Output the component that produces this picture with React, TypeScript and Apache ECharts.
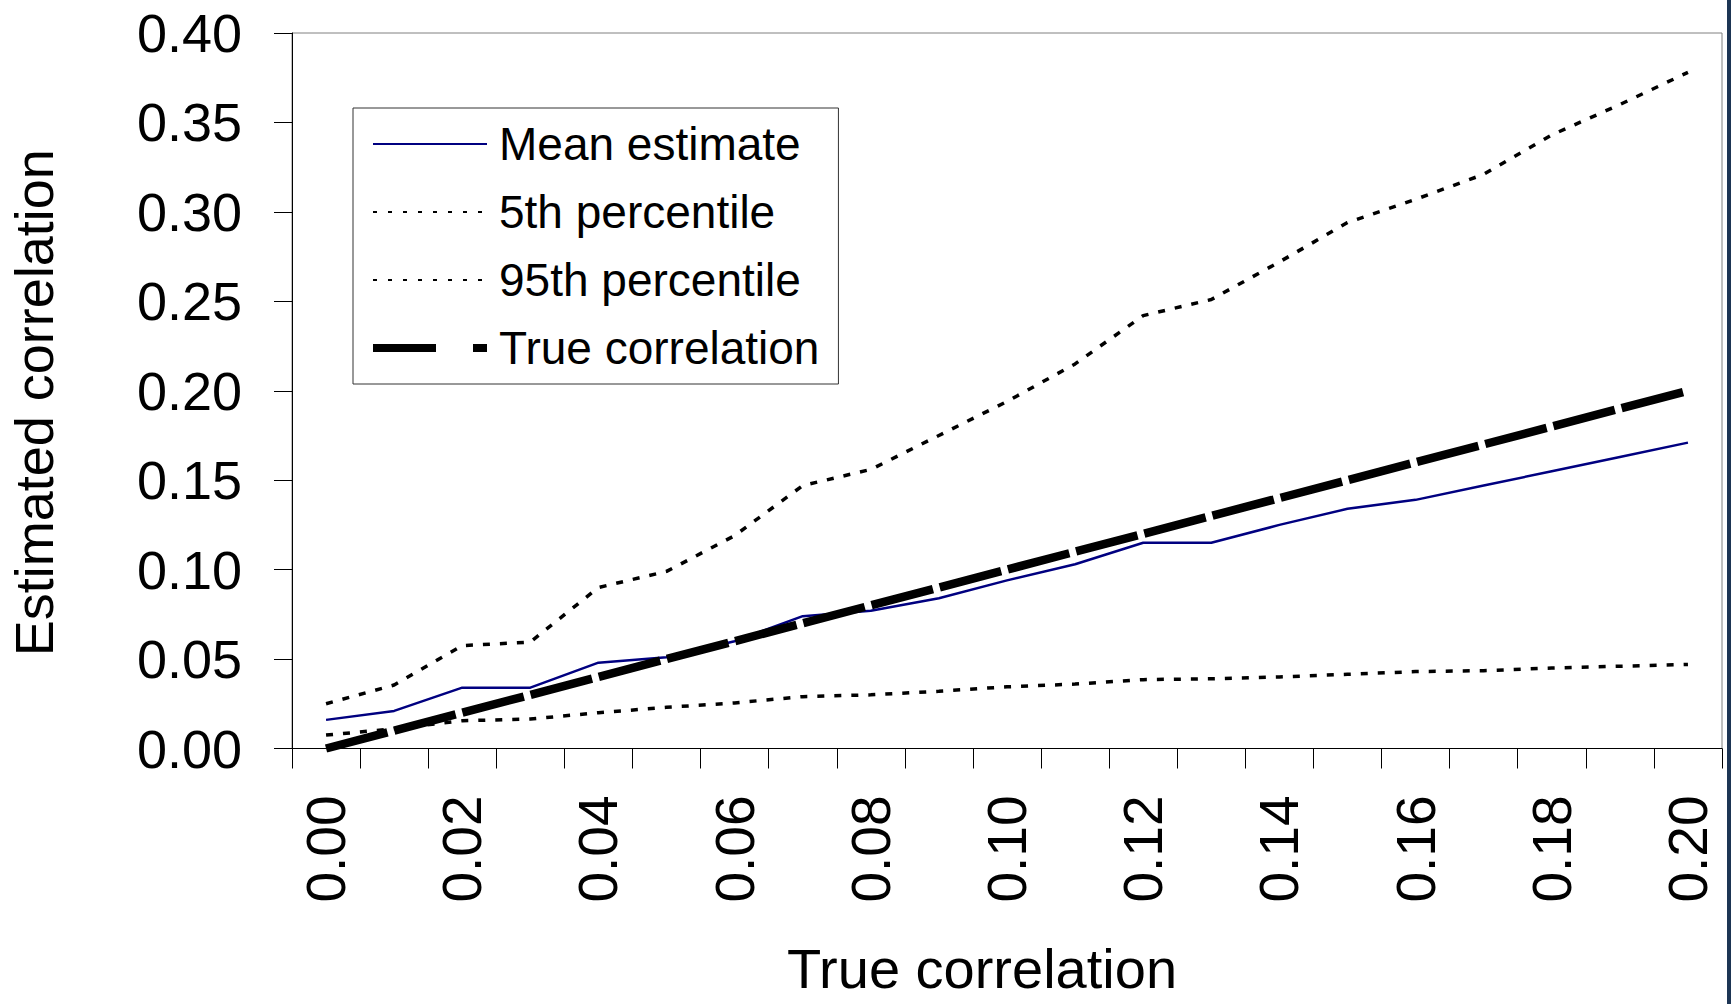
import React, { useEffect, useRef } from "react";
import * as echarts from "echarts";

const categories = [
  "0.00", "0.01", "0.02", "0.03", "0.04", "0.05", "0.06", "0.07", "0.08", "0.09", "0.10",
  "0.11", "0.12", "0.13", "0.14", "0.15", "0.16", "0.17", "0.18", "0.19", "0.20",
];

const meanEstimate = [
  0.016, 0.021, 0.034, 0.034, 0.048, 0.051, 0.060, 0.074, 0.077, 0.084, 0.094,
  0.103, 0.115, 0.115, 0.125, 0.134, 0.139, 0.147, 0.155, 0.163, 0.171,
];

const percentile5 = [
  0.0075, 0.011, 0.0155, 0.0165, 0.020, 0.023, 0.0255, 0.029, 0.030, 0.032, 0.0345,
  0.036, 0.0385, 0.039, 0.040, 0.0415, 0.043, 0.0435, 0.045, 0.046, 0.047,
];

const percentile95 = [
  0.025, 0.0355, 0.0575, 0.0595, 0.090, 0.099, 0.119, 0.147, 0.156, 0.175, 0.194,
  0.215, 0.242, 0.251, 0.272, 0.294, 0.307, 0.321, 0.343, 0.360, 0.378,
];

const trueCorrelation = [
  0.00, 0.01, 0.02, 0.03, 0.04, 0.05, 0.06, 0.07, 0.08, 0.09, 0.10,
  0.11, 0.12, 0.13, 0.14, 0.15, 0.16, 0.17, 0.18, 0.19, 0.20,
];

const FONT = "'Liberation Sans', Arial, Helvetica, sans-serif";

export default function App() {
  const ref = useRef<HTMLDivElement>(null);

  useEffect(() => {
    if (!ref.current) return;
    const chart = echarts.init(ref.current, undefined, { renderer: "svg" });
    chart.setOption({
      animation: false,
      backgroundColor: "#ffffff",
      grid: {
        left: 292,
        top: 33,
        right: 9,
        bottom: 255.5,
        containLabel: false,
        outerBoundsMode: "none",
        show: true,
        borderColor: "#808080",
        borderWidth: 1,
        backgroundColor: "transparent",
      },
      legend: {
        orient: "vertical",
        left: 353,
        top: 108,
        padding: [11, 19, 11, 16],
        itemWidth: 114,
        itemHeight: 14,
        itemGap: 18,
        borderColor: "#333333",
        borderWidth: 1,
        backgroundColor: "#ffffff",
        selectedMode: false,
        itemStyle: { opacity: 0, borderWidth: 0 },
        textStyle: {
          fontSize: 46,
          fontFamily: FONT,
          color: "#000000",
          lineHeight: 50,
          padding: [0, 0, 0, 7],
        },
        data: [
          { name: "Mean estimate" },
          { name: "5th percentile", lineStyle: { width: 1.8, type: [4, 11] } },
          { name: "95th percentile", lineStyle: { width: 1.8, type: [4, 11] } },
          { name: "True correlation", lineStyle: { width: 8, type: [63, 37] } },
        ],
      },
      xAxis: {
        type: "category",
        data: categories,
        boundaryGap: true,
        name: "True correlation",
        nameLocation: "middle",
        nameGap: 197,
        nameTextStyle: {
          fontSize: 56,
          lineHeight: 46,
          fontFamily: FONT,
          color: "#000000",
          padding: [0, 50, 0, 0],
        },
        axisLine: { show: true, lineStyle: { color: "#000000", width: 1 } },
        axisTick: {
          show: true,
          interval: 0,
          length: 20,
          inside: false,
          lineStyle: { color: "#000000", width: 1 },
        },
        axisLabel: {
          interval: 1,
          rotate: 90,
          margin: 47,
          fontSize: 55,
          fontFamily: FONT,
          color: "#000000",
        },
        splitLine: { show: false },
      },
      yAxis: {
        type: "value",
        min: 0,
        max: 0.4,
        interval: 0.05,
        name: "Estimated correlation",
        nameLocation: "middle",
        nameGap: 231,
        nameTextStyle: {
          fontSize: 54,
          fontFamily: FONT,
          color: "#000000",
          padding: [0, 24, 0, 0],
        },
        axisLine: { show: true, lineStyle: { color: "#000000", width: 1 } },
        axisTick: {
          show: true,
          length: 18,
          inside: false,
          lineStyle: { color: "#000000", width: 1 },
        },
        axisLabel: {
          margin: 50,
          fontSize: 54,
          fontFamily: FONT,
          color: "#000000",
          formatter: (v: number) => v.toFixed(2),
        },
        splitLine: { show: false },
      },
      series: [
        {
          name: "Mean estimate",
          type: "line",
          data: meanEstimate,
          symbol: "none",
          lineStyle: { color: "#000080", width: 2.5, type: "solid" },
          itemStyle: { color: "#000080" },
          z: 2,
        },
        {
          name: "5th percentile",
          type: "line",
          data: percentile5,
          symbol: "none",
          lineStyle: { color: "#000000", width: 3.5, type: [7, 10] },
          itemStyle: { color: "#000000" },
          z: 3,
        },
        {
          name: "95th percentile",
          type: "line",
          data: percentile95,
          symbol: "none",
          lineStyle: { color: "#000000", width: 3.5, type: [7, 10] },
          itemStyle: { color: "#000000" },
          z: 3,
        },
        {
          name: "True correlation",
          type: "line",
          data: trueCorrelation,
          symbol: "none",
          lineStyle: { color: "#000000", width: 8.5, type: [63.5, 7], cap: "butt" },
          itemStyle: { color: "#000000" },
          z: 4,
        },
      ],
      graphic: [
        {
          type: "rect",
          right: 0,
          top: 0,
          shape: { width: 4, height: 1004 },
          style: { fill: "#1d3554" },
          silent: true,
        },
      ],
    });
    return () => {
      chart.dispose();
    };
  }, []);

  return (
    <div
      ref={ref}
      style={{
        position: "fixed",
        left: 0,
        top: 0,
        width: "1731px",
        height: "1004px",
        background: "#ffffff",
      }}
    />
  );
}
